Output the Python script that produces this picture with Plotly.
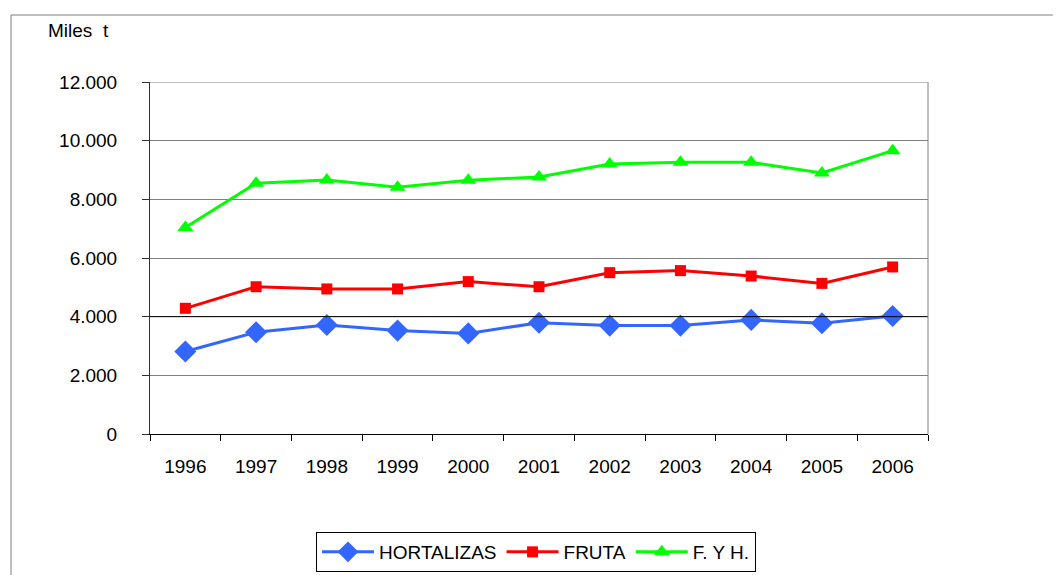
import plotly.graph_objects as go

years = ["1996", "1997", "1998", "1999", "2000", "2001", "2002", "2003", "2004", "2005", "2006"]
hortalizas = [2810, 3470, 3715, 3525, 3430, 3795, 3695, 3695, 3890, 3775, 4025]
fruta = [4285, 5020, 4945, 4945, 5195, 5020, 5500, 5570, 5385, 5135, 5695]
fyh = [7040, 8550, 8660, 8410, 8650, 8760, 9205, 9260, 9260, 8900, 9660]

y_ticks = [0, 2000, 4000, 6000, 8000, 10000, 12000]
y_labels = ["0", "2.000", "4.000", "6.000", "8.000", "10.000", "12.000"]

OFF = 8  # page body margin
W, H = 1061 - OFF, 575 - OFF
L, R, T, B = 150 - OFF, 928 - OFF, 82 - OFF, 434 - OFF

fig = go.Figure()
fig.add_trace(go.Scatter(x=years, y=hortalizas, name="HORTALIZAS", mode="lines+markers",
                         line=dict(color="#3366FF", width=3),
                         marker=dict(symbol="diamond", size=17, color="#3366FF")))
fig.add_trace(go.Scatter(x=years, y=fruta, name="FRUTA", mode="lines+markers",
                         line=dict(color="#FF0000", width=3),
                         marker=dict(symbol="square", size=11, color="#FF0000")))
fig.add_trace(go.Scatter(x=years, y=fyh, name="F. Y H.", mode="lines+markers",
                         line=dict(color="#00FF00", width=3),
                         marker=dict(symbol="triangle-up", size=14, color="#00FF00")))

pw, ph = R - L, B - T
def px(x):
    return (x - OFF - L) / pw
def py(y):
    return (B - (y - OFF)) / ph

fig.update_layout(
    width=W, height=H,
    margin=dict(l=L, r=W - R, t=T, b=H - B, pad=0, autoexpand=False),
    paper_bgcolor="white", plot_bgcolor="white",
    font=dict(family="Liberation Sans, Arial, sans-serif", size=19, color="black"),
    xaxis=dict(type="category", tickson="boundaries", ticks="outside", ticklen=6,
               tickcolor="#000000", showline=True, linecolor="#000000", linewidth=1,
               showgrid=False, tickfont=dict(size=19), ticklabelstandoff=15,
               range=[-0.5, 10.5], automargin=False),
    yaxis=dict(range=[0, 12000], tickvals=y_ticks, ticktext=y_labels, ticks="outside",
               ticklen=7, tickcolor="#303030", showline=True, linecolor="#303030",
               linewidth=1, showgrid=True, gridcolor="#808080", gridwidth=1,
               zeroline=False, tickfont=dict(size=19), ticklabelstandoff=21,
               automargin=False),
    legend=dict(orientation="h", x=px(536), xanchor="center", y=py(532), yanchor="top",
                bordercolor="#000000", borderwidth=1, font=dict(size=19),
                itemwidth=52, tracegroupgap=0),
    showlegend=True,
)

# top gridline at 12.000
fig.add_shape(type="line", xref="paper", yref="y", x0=0, x1=1, y0=12000, y1=12000,
              line=dict(color="#808080", width=1))
# black 4.000 gridline
fig.add_shape(type="line", xref="paper", yref="y", x0=0, x1=1, y0=4000, y1=4000,
              line=dict(color="#000000", width=1))
# right border of plot area
fig.add_shape(type="line", xref="paper", yref="paper", x0=1, x1=1, y0=0, y1=1,
              line=dict(color="#808080", width=1))
# outer chart border (top and left)
fig.add_shape(type="line", xref="paper", yref="paper", x0=px(11), x1=px(1075),
              y0=py(15), y1=py(15), line=dict(color="#808080", width=1))
fig.add_shape(type="line", xref="paper", yref="paper", x0=px(11), x1=px(11),
              y0=py(15), y1=py(600), line=dict(color="#808080", width=1))

fig.add_annotation(text="Miles  t", xref="paper", yref="paper", x=px(46), y=py(30),
                   xanchor="left", yanchor="middle", showarrow=False,
                   font=dict(size=19))

fig.write_html("out.html")
